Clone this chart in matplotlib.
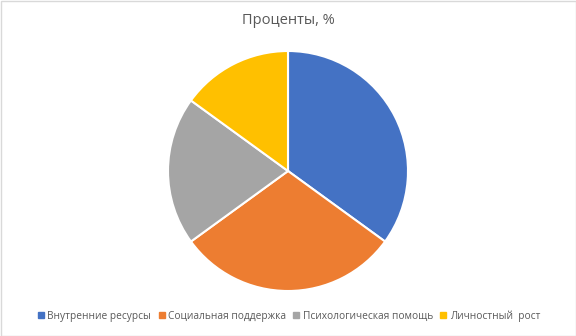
import matplotlib.pyplot as plt
from matplotlib.patches import Rectangle
from matplotlib.lines import Line2D

categories = ['Внутренние ресурсы', 'Социальная поддержка', 'Психологическая помощь', 'Личностный  рост']
values = [35, 30, 20, 15]
colors = ['#4472C4', '#ED7D31', '#A5A5A5', '#FFC000']

plt.rcParams['font.family'] = ['Open Sans', 'DejaVu Sans']

fig = plt.figure(figsize=(5.76, 3.36), dpi=100)
ax = fig.add_axes([168 / 576, 45 / 336, 240 / 576, 240 / 336])

ax.pie(values, colors=colors, startangle=90, counterclock=False,
       wedgeprops={'edgecolor': 'white', 'linewidth': 1.5})
ax.set_xlim(-1, 1)
ax.set_ylim(-1, 1)
ax.set_aspect('equal')

fig.text(0.5, 1 - 20 / 336, 'Проценты, %', ha='center', va='center',
         fontsize=10.5, color='#595959')

handles = [Line2D([], [], marker='s', linestyle='', markersize=4.5,
                  markerfacecolor=c, markeredgecolor=c) for c in colors]
fig.legend(handles, categories, loc='center', bbox_to_anchor=(0.5, 1 - 316 / 336),
           ncol=4, frameon=False, fontsize=7.3, labelcolor='#595959',
           handletextpad=0.1, columnspacing=0.55, handlelength=1.0)

fig.patches.append(Rectangle((0.5 / 576, 0.5 / 336), 575 / 576, 335 / 336,
                             transform=fig.transFigure, fill=False,
                             edgecolor='#D9D9D9', linewidth=1))

fig.savefig('out.png', dpi=100)
